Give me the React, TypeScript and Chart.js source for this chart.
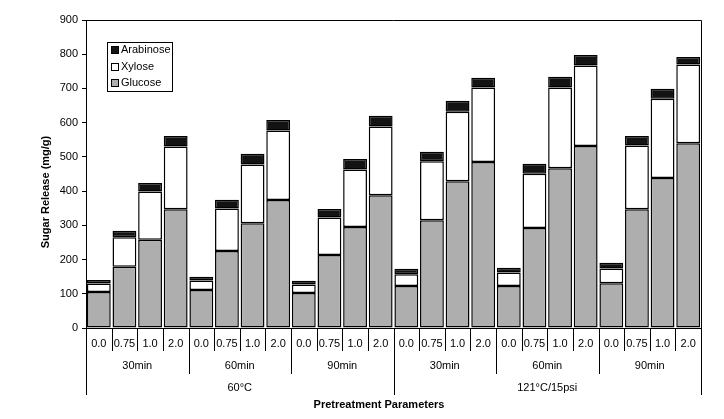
import React, { useEffect, useRef } from "react";
import { Chart, registerables } from "chart.js";

Chart.register(...registerables);

const concentrations = ["0.0", "0.75", "1.0", "2.0"];
const times = ["30min", "60min", "90min"];
const temperatures = ["60°C", "121°C/15psi"];

const categories: string[] = [];
temperatures.forEach((t) => times.forEach((m) => concentrations.forEach((c) => categories.push(`${t} ${m} ${c}`))));

const glucose = [105, 179, 258, 347, 111, 225, 306, 374, 102, 213, 295, 388, 123, 315, 429, 485, 123, 292, 467, 532, 131, 347, 438, 540];
const xylose = [25, 86, 141, 183, 28, 124, 172, 203, 25, 110, 168, 201, 34, 172, 203, 218, 39, 159, 236, 235, 43, 186, 232, 230];
const arabinose = [10, 19, 25, 31, 11, 26, 31, 31, 11, 25, 31, 31, 16, 28, 32, 28, 14, 29, 31, 31, 17, 28, 29, 22];

const yTicks = [0, 100, 200, 300, 400, 500, 600, 700, 800, 900];

const FONT = "'Liberation Sans', Arial, sans-serif";
const GREY = "#adaead";
const BLACK = "#131313";

const legendItems = [
  { label: "Arabinose", color: BLACK },
  { label: "Xylose", color: "#ffffff" },
  { label: "Glucose", color: GREY },
];

const annotatePlugin = {
  id: "annotate",
  afterDraw(chart: any) {
    const ctx = chart.ctx as CanvasRenderingContext2D;
    const xs = chart.scales.x;
    const area = chart.chartArea;
    const n = categories.length;
    const b = area.bottom;
    ctx.save();
    // frame top and right
    ctx.strokeStyle = "#000";
    ctx.lineWidth = 1;
    ctx.beginPath();
    ctx.moveTo(area.left, area.top + 0.5);
    ctx.lineTo(area.right + 0.5, area.top + 0.5);
    ctx.lineTo(area.right + 0.5, area.bottom);
    ctx.stroke();

    // separators
    for (let i = 0; i <= n; i++) {
      const x = Math.round(xs.getPixelForValue(i - 0.5)) + 0.5;
      let len = 23;
      if (i % 4 === 0) len = 46;
      if (i % 12 === 0) len = 67;
      ctx.beginPath();
      ctx.moveTo(x, b);
      ctx.lineTo(x, b + len);
      ctx.stroke();
    }
    ctx.fillStyle = "#000";
    ctx.font = `11px ${FONT}`;
    ctx.textAlign = "center";
    ctx.textBaseline = "middle";
    for (let i = 0; i < n; i++) {
      ctx.fillText(concentrations[i % 4], xs.getPixelForValue(i), b + 16);
    }
    for (let g = 0; g < 6; g++) {
      const x = (xs.getPixelForValue(g * 4 - 0.5) + xs.getPixelForValue(g * 4 + 3.5)) / 2;
      ctx.fillText(times[g % 3], x, b + 38);
    }
    for (let t = 0; t < 2; t++) {
      const x = (xs.getPixelForValue(t * 12 - 0.5) + xs.getPixelForValue(t * 12 + 11.5)) / 2;
      ctx.fillText(temperatures[t], x, b + 60);
    }
    ctx.font = `bold 11px ${FONT}`;
    ctx.fillText("Pretreatment Parameters", 379, b + 77);

    // y title
    ctx.save();
    ctx.translate(46, 192);
    ctx.rotate(-Math.PI / 2);
    ctx.fillText("Sugar Release (mg/g)", 0, 0);
    ctx.restore();

    // legend
    const lx = 107, ly = 42, lw = 65, lh = 49;
    ctx.fillStyle = "#fff";
    ctx.fillRect(lx, ly, lw, lh);
    ctx.strokeStyle = "#000";
    ctx.lineWidth = 1;
    ctx.strokeRect(lx + 0.5, ly + 0.5, lw, lh);
    ctx.font = `11px ${FONT}`;
    ctx.textAlign = "left";
    const rows = [50, 67, 83];
    legendItems.forEach((it, k) => {
      const cy = rows[k];
      ctx.fillStyle = it.color;
      ctx.fillRect(111.5, cy - 3.5, 7, 7);
      ctx.strokeStyle = "#000";
      ctx.strokeRect(111.5, cy - 3.5, 7, 7);
      ctx.fillStyle = "#000";
      ctx.fillText(it.label, 121, cy);
    });
    ctx.restore();
  },
};

export default function App() {
  const ref = useRef<HTMLCanvasElement | null>(null);
  useEffect(() => {
    document.body.style.margin = "0";
    const canvas = ref.current;
    if (!canvas) return;
    const ds = (label: string, data: number[], color: string) => ({
      label,
      data,
      backgroundColor: color,
      borderColor: "#000",
      borderWidth: 1.5,
      borderSkipped: false as const,
      barPercentage: 0.93,
      categoryPercentage: 1,
    });
    const chart = new Chart(canvas, {
      type: "bar",
      data: {
        labels: categories,
        datasets: [ds("Glucose", glucose, GREY), ds("Xylose", xylose, "#ffffff"), ds("Arabinose", arabinose, BLACK)],
      },
      options: {
        animation: false,
        responsive: false,
        devicePixelRatio: 1,
        layout: { padding: { left: 0, top: 20, right: 23, bottom: 0 } },
        plugins: { legend: { display: false }, tooltip: { enabled: false } },
        scales: {
          x: {
            stacked: true,
            grid: { display: false },
            border: { display: true, color: "#000", width: 1 },
            ticks: { display: false },
            afterFit: (s: any) => {
              s.height = 91;
            },
          },
          y: {
            stacked: true,
            min: 0,
            max: 900,
            afterBuildTicks: (s: any) => {
              s.ticks = yTicks.map((v) => ({ value: v }));
            },
            grid: { drawOnChartArea: false, drawTicks: true, tickLength: 4, color: "#000" },
            border: { display: true, color: "#000", width: 1 },
            ticks: { color: "#000", font: { family: FONT, size: 11 }, padding: 4 },
            afterFit: (s: any) => {
              s.width = 86;
            },
          },
        },
      },
      plugins: [annotatePlugin],
    });
    return () => chart.destroy();
  }, []);
  return (
    <div style={{ width: 724, height: 419 }}>
      <canvas ref={ref} width={724} height={419} style={{ display: "block" }} />
    </div>
  );
}
